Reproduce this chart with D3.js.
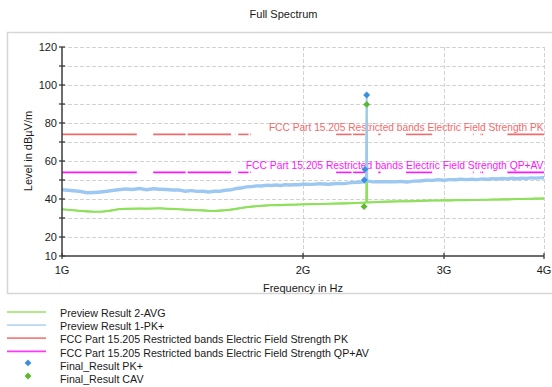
<!DOCTYPE html>
<html>
<head>
<meta charset="utf-8">
<script src="https://cdn.jsdelivr.net/npm/d3@7"></script>
<style>
  html, body { margin: 0; padding: 0; background: #ffffff; }
  svg { display: block; font-family: "Liberation Sans", Arial, sans-serif; }
</style>
</head>
<body>
<svg id="chart" width="552" height="387"></svg>
<script>
// Frequency points of the preview scans, in MHz
const freqMHz = [
  1000, 1025, 1050, 1075, 1100, 1125, 1150, 1175, 1200, 1225,
  1250, 1275, 1300, 1325, 1350, 1375, 1400, 1425, 1450, 1475,
  1500, 1525, 1550, 1575, 1600, 1625, 1650, 1675, 1700, 1725,
  1750, 1775, 1800, 1825, 1850, 1875, 1900, 1925, 1950, 1975,
  2000, 2050, 2100, 2150, 2200, 2250, 2300, 2350, 2398, 2402,
  2406, 2450, 2500, 2550, 2600, 2650, 2700, 2750, 2800, 2850,
  2900, 2950, 3000, 3050, 3100, 3150, 3200, 3250, 3300, 3350,
  3400, 3450, 3500, 3550, 3600, 3650, 3700, 3750, 3800, 3850,
  3900, 3950, 4000
];

// Preview Result 1-PK+ (dBµV/m)
const pkValues = [
  44.9, 44.5, 44.1, 43.3, 43.4, 43.8, 44.3, 44.9, 45.3, 45.0,
  45.5, 44.9, 45.4, 45.1, 45.0, 44.7, 44.7, 44.1, 44.4, 44.0,
  44.1, 43.7, 44.1, 44.1, 44.6, 44.8, 45.5, 45.8, 46.4, 46.5,
  46.9, 46.8, 47.2, 47.1, 47.4, 47.1, 47.5, 47.4, 47.5, 47.5,
  47.8, 47.7, 48.0, 47.8, 48.2, 48.1, 48.6, 48.8, 49.2, 94.5,
  49.4, 49.0, 49.1, 49.1, 49.0, 49.2, 48.9, 49.4, 49.5, 49.9,
  49.8, 50.1, 49.9, 50.2, 50.1, 50.4, 50.2, 50.4, 50.2, 50.6,
  50.4, 50.7, 50.5, 50.8, 50.6, 50.9, 50.7, 51.0, 50.8, 51.1,
  51.0, 51.1, 51.2
];

// Preview Result 2-AVG (dBµV/m)
const avgValues = [
  34.6, 34.2, 33.8, 33.5, 33.3, 33.4, 33.9, 34.6, 34.8, 34.9,
  35.0, 34.9, 35.0, 35.1, 34.9, 34.8, 34.6, 34.4, 34.3, 34.1,
  34.0, 33.8, 33.7, 33.9, 34.1, 34.4, 34.8, 35.3, 35.7, 36.0,
  36.2, 36.4, 36.6, 36.7, 36.8, 36.8, 36.9, 37.0, 37.0, 37.1,
  37.2, 37.3, 37.4, 37.5, 37.6, 37.7, 37.8, 38.0, 38.1, 89.6,
  38.2, 38.3, 38.5, 38.6, 38.7, 38.8, 38.8, 38.9, 39.0, 39.1,
  39.2, 39.2, 39.3, 39.3, 39.4, 39.4, 39.4, 39.5, 39.5, 39.6,
  39.6, 39.7, 39.7, 39.8, 39.8, 39.9, 40.0, 40.0, 40.1, 40.1,
  40.2, 40.2, 40.3
];

// Peak-to-peak noise spread of each trace (dB, half width)
const pkSpread = 0.9;
const avgSpread = 0.55;

// FCC Part 15.205 restricted bands inside the scan range (MHz)
const bandStart = [1000, 1300, 1435, 1645.5, 1660, 1718.8, 2200, 2310, 2483.5, 2690, 3260, 3332, 3345.8, 3600];
const bandEnd   = [1240, 1427, 1626.5, 1646.5, 1710, 1722.2, 2300, 2390, 2500, 2900, 3267, 3339, 3358, 4000];
const limitPK = 74;
const limitAV = 54;

// Final measurements
const finalPkFreq = [2402, 2390, 2386];
const finalPkValue = [94.7, 55.6, 50.0];
const finalAvFreq = [2402, 2384];
const finalAvValue = [89.8, 36.0];

// Axis ticks
const xTickValues = [1000, 2000, 3000, 4000];
const xTickLabels = ["1G", "2G", "3G", "4G"];
const yTickValues = [10, 20, 30, 40, 50, 60, 70, 80, 90, 100, 110, 120];
const yLabelValues = [10, 20, 40, 60, 80, 100, 120];

const legendNames = [
  "Preview Result 2-AVG",
  "Preview Result 1-PK+",
  "FCC Part 15.205 Restricted bands Electric Field Strength PK",
  "FCC Part 15.205 Restricted bands Electric Field Strength QP+AV",
  "Final_Result PK+",
  "Final_Result CAV"
];

const colors = {
  avg: "#8fe05c",
  pk: "#9cc8f2",
  limPK: "#f26b6b",
  limAV: "#ff16ff",
  markPK: "#3d8fdc",
  markAV: "#5cb832",
  grid: "#d2d2d2",
  axis: "#3c3c3c",
  text: "#1a1a1a"
};

const svg = d3.select("#chart");
const plot = { left: 62, right: 544, top: 47, bottom: 256 };

const x = d3.scaleLog().domain([1000, 4000]).range([plot.left, plot.right]);
const y = d3.scaleLinear().domain([10, 120]).range([plot.bottom, plot.top]);

// Panel frame
svg.append("rect")
  .attr("x", 7.5).attr("y", 32.5)
  .attr("width", 560).attr("height", 261)
  .attr("fill", "none")
  .attr("stroke", "#d6d6d6")
  .attr("stroke-width", 1.5);

// Title
svg.append("text")
  .attr("x", 283.5).attr("y", 18)
  .attr("text-anchor", "middle")
  .attr("font-size", 11)
  .attr("fill", colors.text)
  .text("Full Spectrum");

// Grid
const grid = svg.append("g");
grid.selectAll("line.h")
  .data(yTickValues.filter(v => v > 10))
  .join("line")
  .attr("x1", plot.left).attr("x2", plot.right)
  .attr("y1", d => y(d) + 0.5).attr("y2", d => y(d) + 0.5)
  .attr("stroke", colors.grid)
  .attr("stroke-dasharray", "4,2");
grid.selectAll("line.v")
  .data(xTickValues.filter(v => v > 1000))
  .join("line")
  .attr("x1", d => x(d) + 0.5).attr("x2", d => x(d) + 0.5)
  .attr("y1", plot.top).attr("y2", plot.bottom)
  .attr("stroke", colors.grid)
  .attr("stroke-dasharray", "4,2");

// Limit lines, one segment per restricted band
const bands = bandStart.map((s, i) => [s, bandEnd[i]]);
function drawLimit(value, color) {
  svg.append("g").selectAll("line")
    .data(bands)
    .join("line")
    .attr("x1", d => x(d[0])).attr("x2", d => x(d[1]))
    .attr("y1", y(value)).attr("y2", y(value))
    .attr("stroke", color)
    .attr("stroke-width", 1.6);
}
drawLimit(limitPK, colors.limPK);
drawLimit(limitAV, colors.limAV);

// Limit labels
svg.append("text")
  .attr("x", 543.5).attr("y", y(limitPK) - 3.5)
  .attr("text-anchor", "end")
  .attr("font-size", 10.2)
  .attr("fill", colors.limPK)
  .text(legendNames[2]);
svg.append("text")
  .attr("x", 543.5).attr("y", y(limitAV) - 3.5)
  .attr("text-anchor", "end")
  .attr("font-size", 10.3)
  .attr("fill", colors.limAV)
  .text(legendNames[3]);

// Preview traces: noise band plus the trace line
function drawTrace(values, spread, color, width) {
  const band = d3.area()
    .x((d, i) => x(freqMHz[i]))
    .y0(d => y(d - spread))
    .y1(d => y(d + spread));
  const line = d3.line()
    .x((d, i) => x(freqMHz[i]))
    .y(d => y(d));
  svg.append("path")
    .attr("d", band(values))
    .attr("fill", color);
  svg.append("path")
    .attr("d", line(values))
    .attr("fill", "none")
    .attr("stroke", color)
    .attr("stroke-width", width)
    .attr("stroke-linejoin", "round");
}
drawTrace(avgValues, avgSpread, colors.avg, 1.7);
drawTrace(pkValues, pkSpread, colors.pk, 1.9);

// Final result markers (square turned on its corner)
const marker = d3.symbol().type(d3.symbolSquare).size(24);
svg.append("g").selectAll("path")
  .data(finalAvFreq.map((f, i) => [f, finalAvValue[i]]))
  .join("path")
  .attr("transform", d => `translate(${x(d[0])},${y(d[1])}) rotate(45)`)
  .attr("d", marker)
  .attr("fill", colors.markAV);
svg.append("g").selectAll("path")
  .data(finalPkFreq.map((f, i) => [f, finalPkValue[i]]))
  .join("path")
  .attr("transform", d => `translate(${x(d[0])},${y(d[1])}) rotate(45)`)
  .attr("d", marker)
  .attr("fill", colors.markPK);

// Axes
const yAxis = svg.append("g");
yAxis.append("line")
  .attr("x1", plot.left).attr("x2", plot.left)
  .attr("y1", plot.top).attr("y2", plot.bottom)
  .attr("stroke", colors.axis).attr("stroke-width", 1.5);
yAxis.selectAll("line.t")
  .data(yTickValues)
  .join("line")
  .attr("x1", plot.left - 3).attr("x2", plot.left + 3)
  .attr("y1", d => y(d)).attr("y2", d => y(d))
  .attr("stroke", colors.axis).attr("stroke-width", 1.3);
yAxis.selectAll("text")
  .data(yLabelValues)
  .join("text")
  .attr("x", plot.left - 5)
  .attr("y", d => y(d))
  .attr("dy", "0.35em")
  .attr("text-anchor", "end")
  .attr("font-size", 11)
  .attr("fill", colors.text)
  .text(d => d);

const xAxis = svg.append("g");
xAxis.append("line")
  .attr("x1", plot.left).attr("x2", plot.right)
  .attr("y1", plot.bottom).attr("y2", plot.bottom)
  .attr("stroke", colors.axis).attr("stroke-width", 1.5);
xAxis.selectAll("line.t")
  .data(xTickValues)
  .join("line")
  .attr("x1", d => x(d)).attr("x2", d => x(d))
  .attr("y1", plot.bottom - 3).attr("y2", plot.bottom + 3)
  .attr("stroke", colors.axis).attr("stroke-width", 1.3);
xAxis.selectAll("text")
  .data(xTickValues)
  .join("text")
  .attr("x", d => x(d))
  .attr("y", 273.5)
  .attr("text-anchor", "middle")
  .attr("font-size", 11)
  .attr("fill", colors.text)
  .text((d, i) => xTickLabels[i]);

// Axis titles
svg.append("text")
  .attr("x", 303).attr("y", 292)
  .attr("text-anchor", "middle")
  .attr("font-size", 11)
  .attr("fill", colors.text)
  .text("Frequency in Hz");
svg.append("text")
  .attr("transform", "translate(32,151) rotate(-90)")
  .attr("text-anchor", "middle")
  .attr("font-size", 11)
  .attr("fill", colors.text)
  .text("Level in dBµV/m");

// Legend
const legendColors = [colors.avg, colors.pk, colors.limPK, colors.limAV, colors.markPK, colors.markAV];
const legend = svg.append("g");
legendNames.forEach((name, i) => {
  const cy = 313.5 + i * 13.1;
  if (i < 4) {
    legend.append("line")
      .attr("x1", 7).attr("x2", 46)
      .attr("y1", cy - 1.5).attr("y2", cy - 1.5)
      .attr("stroke", legendColors[i])
      .attr("stroke-width", 1.8)
      .attr("opacity", i < 2 ? 0.7 : 0.85);
  } else {
    legend.append("path")
      .attr("transform", `translate(28,${cy - 3}) rotate(45)`)
      .attr("d", marker)
      .attr("fill", legendColors[i]);
  }
  legend.append("text")
    .attr("x", 60).attr("y", cy)
    .attr("dy", "0.35em")
    .attr("font-size", 10.7)
    .attr("fill", colors.text)
    .text(name);
});
</script>
</body>
</html>
